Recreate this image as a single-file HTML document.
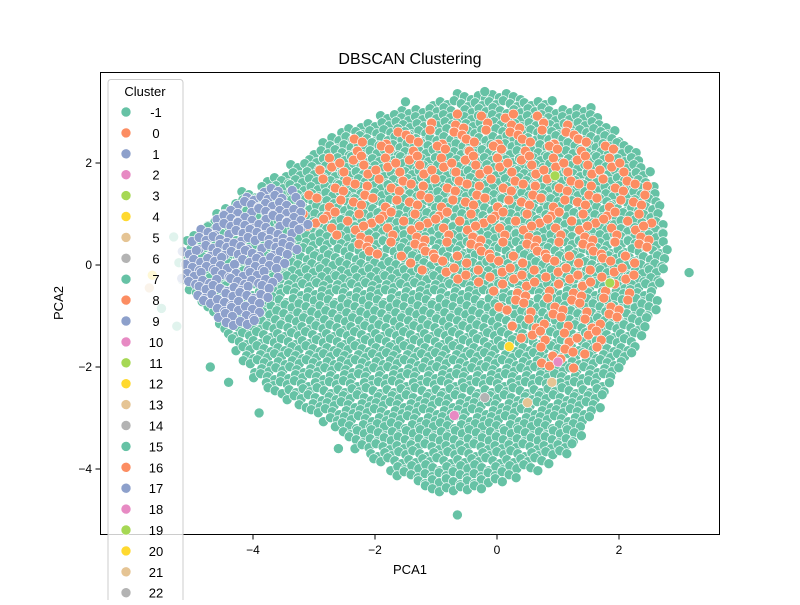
<!DOCTYPE html>
<html><head><meta charset="utf-8"><style>
body{margin:0;background:#fff;}
svg text{font-family:"Liberation Sans","DejaVu Sans",sans-serif;}
</style></head><body>
<svg id="chart" width="800" height="600" viewBox="0 0 800 600">
<rect x="0" y="0" width="800" height="600" fill="#fff"/>
<g id="pts"></g>
<rect x="100.5" y="72.5" width="619" height="462" fill="none" stroke="#000" stroke-width="1"/>
<g id="axes"></g>
<text x="410" y="64" text-anchor="middle" font-size="16">DBSCAN Clustering</text>
<text x="410" y="574" text-anchor="middle" font-size="13">PCA1</text>
<text x="63" y="303" text-anchor="middle" font-size="13" transform="rotate(-90 63 303)">PCA2</text>
<g id="legend"></g>
</svg>
<script>
// Hull rows of the noise cluster (-1): [PCA2, PCA1 min, PCA1 max]
const noiseRows=[[3.3,-0.6,0.5],[3.0,-1.7,1.6],[2.6,-2.6,2.0],[2.2,-3.0,2.3],[1.6,-3.8,2.6],[1.2,-4.4,2.7],[0.8,-4.8,2.8],[0.4,-5.1,2.8],[0.0,-5.2,2.8],[-0.4,-5.1,2.7],[-0.8,-4.8,2.6],[-1.2,-4.5,2.5],[-1.6,-4.3,2.3],[-2.0,-4.1,2.1],[-2.4,-3.8,1.9],[-2.8,-3.2,1.6],[-3.2,-2.6,1.5],[-3.6,-2.3,1.3],[-4.0,-1.8,0.6],[-4.4,-1.1,-0.2]];
// Cluster 0 (orange) rows
const orangeRows=[[2.9,-0.6,0.8],[2.5,-2.3,1.8],[2.1,-2.8,2.2],[1.6,-3.0,2.4],[1.2,-3.1,2.5],[0.8,-3.2,2.6],[0.4,-2.6,2.5],[0.0,-1.5,2.4],[-0.4,-0.3,2.3],[-0.8,0.0,2.2],[-1.2,0.3,2.0],[-1.6,0.5,1.8],[-2.0,0.7,1.4]];
// Cluster 1 (blue) rows
const blueRows=[[1.6,-3.6,-3.3],[1.2,-4.4,-3.2],[0.8,-4.7,-3.1],[0.4,-5.1,-3.3],[0.0,-5.2,-3.5],[-0.4,-5.1,-3.6],[-0.8,-4.8,-3.8],[-1.2,-4.4,-4.0]];
// Isolated points [PCA1, PCA2, cluster]
const outliers=[[3.15,-0.15,-1],[-0.65,-4.9,-1],[-0.2,3.4,-1],[-1.5,3.2,-1],[-5.3,0.55,-1],[-5.25,-1.2,-1],[-5.5,-0.85,-1],[-4.7,-2.0,-1],[-4.4,-2.3,-1],[-3.9,-2.9,-1],[-2.6,-3.6,-1],[0.2,-1.6,4],[0.9,-2.3,5],[0.5,-2.7,5],[-0.2,-2.6,6],[0.95,1.75,3],[1.85,-0.35,3],[-0.7,-2.95,2],[1.0,-1.9,2],[-5.65,-0.2,4],[-5.7,-0.45,5]];
const xTicks=[-4,-2,0,2];
const yTicks=[-4,-2,0,2];
const legendLabels=["-1","0","1","2","3","4","5","6","7","8","9","10","11","12","13","14","15","16","17","18","19","20","21","22"];
const palette=["#66c2a5","#fc8d62","#8da0cb","#e78ac3","#a6d854","#ffd92f","#e5c494","#b3b3b3"];

const X=v=>497+v*61, Y=v=>265-v*51;
const NS="http://www.w3.org/2000/svg";
const pts=document.getElementById('pts');
function dot(px,py,c){
  const e=document.createElementNS(NS,'circle');
  e.setAttribute('cx',px.toFixed(1));e.setAttribute('cy',py.toFixed(1));
  e.setAttribute('r',5);e.setAttribute('fill',c);e.setAttribute('stroke','#fff');e.setAttribute('stroke-width',0.6);
  
  
  pts.appendChild(e);
}
function hullAt(rows,y){
  for(let i=0;i<rows.length-1;i++){
    const a=rows[i],b=rows[i+1];
    if(y<=a[0]&&y>=b[0]){const t=(a[0]-y)/(a[0]-b[0]);return [a[1]+t*(b[1]-a[1]),a[2]+t*(b[2]-a[2])];}
  }
  return null;
}
function fill(rows,color,step,keep){
  const top=rows[0][0],bot=rows[rows.length-1][0];
  let r=0;
  for(let py=Y(top);py<=Y(bot);py+=step,r++){
    const h=hullAt(rows,(265-py)/51); if(!h)continue;
    let k=0;
    for(let px=X(h[0])+((r%2)*step/2);px<=X(h[1]);px+=step,k++){
      if(keep&&!keep(k,r))continue;
      dot(px+((k*7+r*3)%7-3),py+((k*3+r*5)%7-3),color);
    }
  }
}
fill(noiseRows,palette[0],7,null);
fill(orangeRows,palette[1],8,(k,r)=>((k*5+r*3)%7)<3);
fill(blueRows,palette[2],7,(k,r)=>((k*5+r*3)%9)!==0);
outliers.forEach(o=>dot(X(o[0]),Y(o[1]),palette[(o[2]+1+8)%8]));

const ax=document.getElementById('axes');
xTicks.forEach(t=>{
  const l=document.createElementNS(NS,'line');
  l.setAttribute('x1',X(t));l.setAttribute('x2',X(t));l.setAttribute('y1',534.5);l.setAttribute('y2',539.5);l.setAttribute('stroke','#000');
  
  
  ax.appendChild(l);
  const s=document.createElementNS(NS,'text');
  s.setAttribute('x',X(t));s.setAttribute('y',554);s.setAttribute('text-anchor','middle');s.setAttribute('font-size',12);
  s.textContent=(t<0?'\u2212'+(-t):t);
  
  
  ax.appendChild(s);
});
yTicks.forEach(t=>{
  const l=document.createElementNS(NS,'line');
  l.setAttribute('x1',95.5);l.setAttribute('x2',100.5);l.setAttribute('y1',Y(t));l.setAttribute('y2',Y(t));l.setAttribute('stroke','#000');
  
  
  ax.appendChild(l);
  const s=document.createElementNS(NS,'text');
  s.setAttribute('x',92);s.setAttribute('y',Y(t)+4);s.setAttribute('text-anchor','end');s.setAttribute('font-size',12);
  s.textContent=(t<0?'\u2212'+(-t):t);
  
  
  ax.appendChild(s);
});

const lg=document.getElementById('legend');
const box=document.createElementNS(NS,'rect');
box.setAttribute('x',108);box.setAttribute('y',79.5);box.setAttribute('width',75);box.setAttribute('height',540);box.setAttribute('rx',3);
box.setAttribute('fill','#fff');box.setAttribute('fill-opacity',0.8);box.setAttribute('stroke','#ccc');


lg.appendChild(box);
const tt=document.createElementNS(NS,'text');
tt.setAttribute('x',145);tt.setAttribute('y',96);tt.setAttribute('text-anchor','middle');tt.setAttribute('font-size',13);tt.textContent='Cluster';


lg.appendChild(tt);
legendLabels.forEach((lab,i)=>{
  const y=112+i*20.9;
  const c=document.createElementNS(NS,'circle');
  c.setAttribute('cx',126);c.setAttribute('cy',y);c.setAttribute('r',5);c.setAttribute('fill',palette[i%8]);c.setAttribute('stroke','#fff');c.setAttribute('stroke-width',0.6);
  
  
  lg.appendChild(c);
  const s=document.createElementNS(NS,'text');
  s.setAttribute('x',156);s.setAttribute('y',y+5);s.setAttribute('text-anchor','middle');s.setAttribute('font-size',13);s.textContent=lab;
  
  
  lg.appendChild(s);
});
</script>
</body></html>
